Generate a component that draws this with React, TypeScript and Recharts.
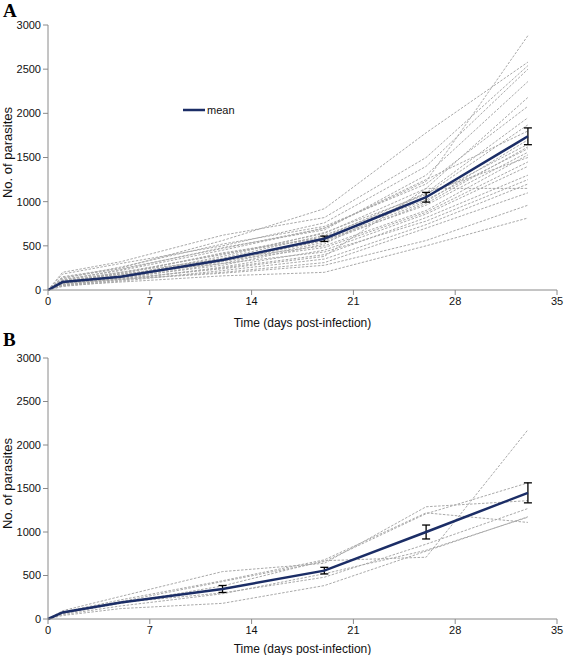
import { LineChart, Line, XAxis, YAxis, ErrorBar, Legend } from 'recharts';

// sampling days (post-infection)
const days = [0, 1, 5, 12, 19, 26, 33];
const xTicks = [0, 7, 14, 21, 28, 35];
const yTicks = [0, 500, 1000, 1500, 2000, 2500, 3000];

// panel A: individual parasite counts
const individualsA = [
    [0, 150, 250, 560, 920, 1780, 2580],
    [0, 120, 220, 450, 700, 1230, 2880],
    [0, 200, 320, 620, 820, 1500, 2540],
    [0, 180, 300, 500, 760, 1400, 2500],
    [0, 110, 230, 480, 680, 1300, 2360],
    [0, 90, 200, 400, 640, 1150, 2180],
    [0, 130, 260, 520, 720, 1200, 2080],
    [0, 100, 180, 420, 600, 1100, 1950],
    [0, 70, 160, 380, 650, 1080, 1870],
    [0, 140, 240, 470, 700, 1250, 1800],
    [0, 60, 140, 320, 560, 1000, 1700],
    [0, 80, 170, 360, 620, 1050, 1650],
    [0, 50, 130, 300, 540, 980, 1620],
    [0, 95, 190, 410, 590, 1020, 1600],
    [0, 75, 150, 340, 560, 960, 1560],
    [0, 110, 200, 350, 500, 900, 1530],
    [0, 65, 140, 280, 520, 1100, 1500],
    [0, 85, 160, 330, 480, 880, 1450],
    [0, 45, 110, 260, 450, 860, 1400],
    [0, 55, 120, 250, 400, 820, 1300],
    [0, 100, 180, 300, 430, 780, 1250],
    [0, 40, 100, 220, 350, 740, 1200],
    [0, 70, 130, 240, 380, 1150, 1150],
    [0, 60, 120, 200, 310, 700, 1100],
    [0, 80, 120, 190, 280, 560, 960],
    [0, 50, 90, 160, 200, 500, 815],
];
const meanA = [0, 90, 150, 340, 580, 1050, 1740];
const errA = [0, 0, 0, 0, 30, 55, 95];

// panel B
const individualsB = [
    [0, 95, 260, 545, 640, 1290, 1360],
    [0, 80, 220, 440, 680, 1220, 1110],
    [0, 70, 200, 430, 660, 1210, 1565],
    [0, 60, 180, 380, 670, 710, 2175],
    [0, 75, 190, 300, 480, 860, 1270],
    [0, 50, 150, 290, 520, 790, 1170],
    [0, 40, 120, 180, 384, 780, 1175],
];
const meanB = [0, 75, 190, 345, 556, 1000, 1450];
const errB = [0, 0, 0, 40, 38, 80, 115];

const font = '"Liberation Sans", Arial, sans-serif';
const tickStyle = { fontSize: 11, fill: '#111', fontFamily: font };
const axisColor = '#8a8a8a';

const buildRows = (ind: number[][], mean: number[], err: number[]) =>
    days.map((d, i) => {
        const row: Record<string, number> = { day: d, mean: mean[i], err: err[i] };
        ind.forEach((s, k) => { row['s' + k] = s[i]; });
        return row;
    });

const YLabel = (props: any) => {
    const vb = props.viewBox || { y: 0, height: 0 };
    const cx = 7;
    const cy = vb.y + vb.height / 2 - 5;
    return (
        <text x={cx} y={cy} transform={`rotate(-90 ${cx} ${cy})`} textAnchor="middle"
            dominantBaseline="central" style={{ fontSize: 13, fill: '#111', fontFamily: font }}>
            No. of parasites
        </text>
    );
};

const MeanLegend = () => (
    <svg width={70} height={16}>
        <line x1={2} y1={8} x2={24} y2={8} stroke="#1b2d66" strokeWidth={2.5} />
        <text x={26} y={12} style={{ fontSize: 11, fill: '#111', fontFamily: font }}>mean</text>
    </svg>
);

interface PanelProps {
    ind: number[][];
    mean: number[];
    err: number[];
    height: number;
    top: number;
    xAxisHeight: number;
    labelOffset: number;
    legend?: boolean;
}

function Panel({ ind, mean, err, height, top, xAxisHeight, labelOffset, legend }: PanelProps) {
    const rows = buildRows(ind, mean, err);
    return (
        <LineChart width={567} height={height} data={rows}
            margin={{ top, right: 10, left: 0, bottom: 0 }}>
            <XAxis dataKey="day" type="number" domain={[0, 35]} ticks={xTicks} height={xAxisHeight}
                tick={tickStyle} tickSize={5} stroke={axisColor}
                label={{ value: 'Time (days post-infection)', position: 'insideBottom', offset: labelOffset,
                    style: { fontSize: 12, fill: '#111', fontFamily: font } }} />
            <YAxis type="number" domain={[0, 3000]} ticks={yTicks} width={48} tick={tickStyle}
                tickSize={5} stroke={axisColor} label={<YLabel />} />
            {ind.map((_, k) => (
                <Line key={k} dataKey={'s' + k} type="linear" stroke="#a9a9a9" strokeWidth={1}
                    strokeDasharray="2.5 1.5" dot={false} activeDot={false} isAnimationActive={false}
                    legendType="none" />
            ))}
            <Line dataKey="mean" type="linear" stroke="#1b2d66" strokeWidth={2.5} dot={false}
                activeDot={false} isAnimationActive={false}>
                <ErrorBar dataKey="err" direction="y" width={4} stroke="#000" strokeWidth={1.3} />
            </Line>
            {legend && (
                <Legend layout="horizontal" verticalAlign="middle" align="center"
                    wrapperStyle={{ left: 181, top: 102, width: 80 }} content={<MeanLegend />} />
            )}
        </LineChart>
    );
}

export default function App() {
    return (
        <div style={{ position: 'absolute', left: 0, top: 0, width: 567, height: 655, background: '#fff' }}>
            <div style={{ position: 'absolute', left: 3, top: 0, fontFamily: '"Liberation Serif", serif',
                fontWeight: 'bold', fontSize: 19, lineHeight: '22px', zIndex: 2 }}>A</div>
            <div style={{ position: 'absolute', left: 3, top: 329, fontFamily: '"Liberation Serif", serif',
                fontWeight: 'bold', fontSize: 19, lineHeight: '22px', zIndex: 2 }}>B</div>
            <div style={{ position: 'absolute', left: 0, top: 0 }}>
                <Panel ind={individualsA} mean={meanA} err={errA} height={330} top={25}
                    xAxisHeight={40} labelOffset={3} legend />
            </div>
            <div style={{ position: 'absolute', left: 0, top: 330 }}>
                <Panel ind={individualsB} mean={meanB} err={errB} height={325} top={28}
                    xAxisHeight={36} labelOffset={2} />
            </div>
        </div>
    );
}
